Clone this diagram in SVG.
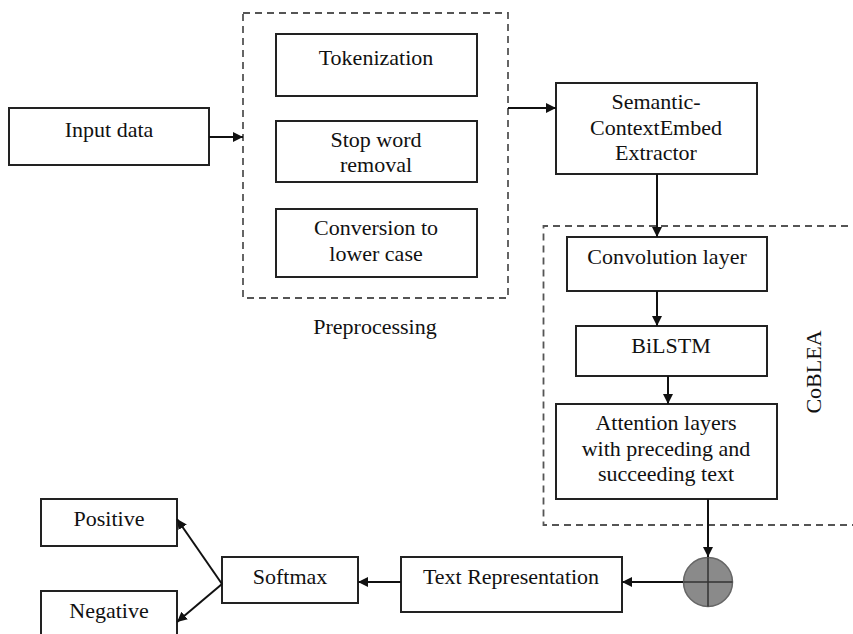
<svg xmlns="http://www.w3.org/2000/svg" width="853" height="634" viewBox="0 0 853 634">
<style>
.box{fill:#fff;stroke:#222;stroke-width:2}
.dash{fill:none;stroke:#555;stroke-width:1.8;stroke-dasharray:7,5}
.t{font-family:"Liberation Serif","Times New Roman",serif;font-size:22px;fill:#111;text-anchor:middle}
.c{stroke:#111;stroke-width:2;fill:none}
</style>
<defs>
<marker id="ah" viewBox="0 0 10 10" refX="10" refY="5" markerWidth="10" markerHeight="10" markerUnits="userSpaceOnUse" orient="auto">
<path d="M0,0 L10,5 L0,10 z" fill="#111"/>
</marker>
</defs>
<rect width="853" height="634" fill="#fff"/>
<g id="preprocessing">
<rect class="dash" x="243" y="13" width="265" height="285"/>
<text class="t" x="375" y="334">Preprocessing</text>
</g>
<g id="coblea">
<path class="dash" d="M860,226 L543.5,226 L543.5,525 L860,525"/>
<text class="t" transform="translate(821,372) rotate(-90)">CoBLEA</text>
</g>
<g id="input">
<rect class="box" x="9" y="108" width="200" height="57"/>
<text class="t" x="109" y="137">Input data</text>
</g>
<g id="tokenization">
<rect class="box" x="276" y="34" width="201" height="62"/>
<text class="t" x="376" y="65">Tokenization</text>
</g>
<g id="stopword">
<rect class="box" x="276" y="121" width="201" height="61"/>
<text class="t" x="376" y="147">Stop word</text>
<text class="t" x="376" y="172">removal</text>
</g>
<g id="conversion">
<rect class="box" x="276" y="209" width="201" height="68"/>
<text class="t" x="376" y="235">Conversion to</text>
<text class="t" x="376" y="261">lower case</text>
</g>
<g id="semantic">
<rect class="box" x="556" y="83" width="201" height="91"/>
<text class="t" x="656" y="109">Semantic-</text>
<text class="t" x="656" y="135">ContextEmbed</text>
<text class="t" x="656" y="160">Extractor</text>
</g>
<g id="convolution">
<rect class="box" x="567" y="237" width="200" height="54"/>
<text class="t" x="667" y="264">Convolution layer</text>
</g>
<g id="bilstm">
<rect class="box" x="576" y="326" width="191" height="50"/>
<text class="t" x="671" y="353">BiLSTM</text>
</g>
<g id="attention">
<rect class="box" x="556" y="404" width="221" height="95"/>
<text class="t" x="666" y="430">Attention layers</text>
<text class="t" x="666" y="456">with preceding and</text>
<text class="t" x="666" y="481">succeeding text</text>
</g>
<g id="sum">
<circle cx="708" cy="582" r="24.5" fill="#8a8a8a" stroke="#666" stroke-width="1.5"/>
<path d="M683.5,582 H732.5 M708,557.5 V606.5" stroke="#333" stroke-width="1.5"/>
</g>
<g id="textrep">
<rect class="box" x="401" y="557" width="221" height="55"/>
<text class="t" x="511" y="584">Text Representation</text>
</g>
<g id="softmax">
<rect class="box" x="222" y="557" width="136" height="46"/>
<text class="t" x="290" y="584">Softmax</text>
</g>
<g id="positive">
<rect class="box" x="41" y="499" width="136" height="47"/>
<text class="t" x="109" y="526">Positive</text>
</g>
<g id="negative">
<rect class="box" x="41" y="591" width="136" height="50"/>
<text class="t" x="109" y="618">Negative</text>
</g>
<g id="connectors">
<line class="c" x1="209" y1="137" x2="243" y2="137" marker-end="url(#ah)"/>
<line class="c" x1="508" y1="108" x2="556" y2="108" marker-end="url(#ah)"/>
<line class="c" x1="657" y1="174" x2="657" y2="237" marker-end="url(#ah)"/>
<line class="c" x1="657" y1="291" x2="657" y2="326" marker-end="url(#ah)"/>
<line class="c" x1="668" y1="376" x2="668" y2="404" marker-end="url(#ah)"/>
<line class="c" x1="708" y1="499" x2="708" y2="557" marker-end="url(#ah)"/>
<line class="c" x1="683" y1="582" x2="622" y2="582" marker-end="url(#ah)"/>
<line class="c" x1="401" y1="582" x2="358" y2="582" marker-end="url(#ah)"/>
<line class="c" x1="222" y1="584" x2="177" y2="519" marker-end="url(#ah)"/>
<line class="c" x1="222" y1="584" x2="177" y2="622" marker-end="url(#ah)"/>
</g>
</svg>
